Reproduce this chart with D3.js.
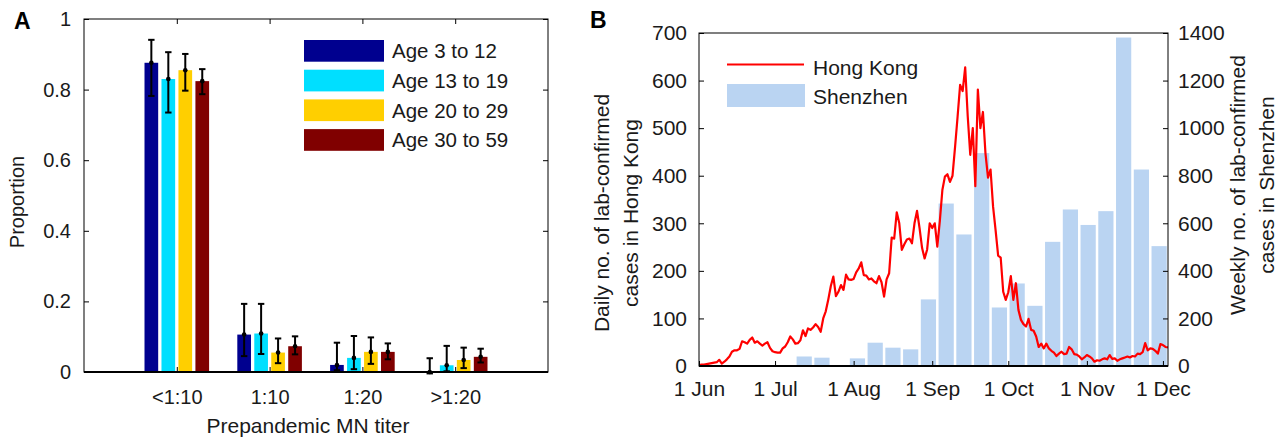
<!DOCTYPE html>
<html>
<head>
<meta charset="utf-8">
<script src="https://cdn.jsdelivr.net/npm/d3@7"></script>
<style>
  body { margin: 0; background: #fff; }
  svg { display: block; font-family: "Liberation Sans", Arial, sans-serif; }
</style>
</head>
<body>
<svg id="chart" width="1278" height="440"></svg>
<script>
// ---- panel A data: prepandemic MN titer by age group ----
const titers = ["<1:10", "1:10", "1:20", ">1:20"];
const ageGroups = ["Age 3 to 12", "Age 13 to 19", "Age 20 to 29", "Age 30 to 59"];
const ageColours = ["#00008f", "#00dfff", "#ffcf00", "#800000"];
// rows = age group, columns = titer
const propMean = [
  [0.876, 0.106, 0.020, 0.000],
  [0.830, 0.109, 0.040, 0.019],
  [0.855, 0.055, 0.057, 0.034],
  [0.824, 0.073, 0.057, 0.043]
];
const propLow = [
  [0.782, 0.045, 0.005, -0.004],
  [0.735, 0.051, 0.008, 0.002],
  [0.797, 0.025, 0.023, 0.011],
  [0.787, 0.050, 0.036, 0.027]
];
const propHigh = [
  [0.941, 0.193, 0.083, 0.039],
  [0.906, 0.193, 0.102, 0.074],
  [0.901, 0.095, 0.098, 0.069],
  [0.858, 0.101, 0.081, 0.066]
];
const propTicks = [0, 0.2, 0.4, 0.6, 0.8, 1];

// ---- panel B data: Hong Kong daily cases, Shenzhen weekly cases ----
const hkStart = "2009-06-01";
const hkDaily = [
  2, 3, 3, 4, 5, 6, 7, 8, 13, 5,
  9, 14, 20, 30, 33, 33, 36, 52, 50, 47,
  55, 60, 49, 52, 47, 43, 47, 50, 38, 31,
  29, 28, 28, 37, 41, 50, 62, 56, 47, 48,
  54, 75, 63, 79, 76, 81, 88, 82, 72, 100,
  115, 140, 168, 188, 147, 156, 170, 160, 192, 182,
  181, 183, 197, 205, 218, 191, 190, 182, 184, 178,
  174, 189, 176, 146, 182, 195, 270, 268, 323, 300,
  244, 256, 266, 268, 258, 300, 326, 290, 248, 226,
  245, 300, 290, 300, 251, 305, 370, 398, 403, 387,
  400, 460, 524, 591, 578, 628, 525, 444, 500, 378,
  581, 500, 534, 447, 396, 413, 335, 285, 232, 228,
  156, 139, 155, 189, 139, 174, 118, 97, 88, 83,
  99, 76, 74, 62, 40, 47, 37, 47, 37, 32,
  28, 21, 26, 30, 25, 26, 40, 35, 25, 24,
  20, 14, 18, 23, 20, 16, 9, 12, 11, 14,
  16, 14, 23, 15, 16, 11, 14, 16, 18, 20,
  18, 21, 20, 26, 25, 29, 48, 33, 37, 36,
  32, 26, 46, 44, 40, 39
];
const szWeekStart = "2009-07-09";
const szWeekly = [40, 35, 0, 32, 98, 77, 70, 280, 683, 553, 895,
                  246, 347, 253, 522, 658, 593, 651, 1381, 826, 504];
const monthTicks = ["2009-06-01", "2009-07-01", "2009-08-01", "2009-09-01",
                    "2009-10-01", "2009-11-01", "2009-12-01"];
const hkTicks = [0, 100, 200, 300, 400, 500, 600, 700];
const szTicks = [0, 200, 400, 600, 800, 1000, 1200, 1400];
const xEnd = "2009-12-03";

const svg = d3.select("#chart");
const parse = d3.utcParse("%Y-%m-%d");

// small helper to style axis text + ticks like matlab (inward ticks, no domain)
function styleAxis(g, size) {
  g.select(".domain").remove();
  g.selectAll(".tick line").attr("stroke", "#000").attr("stroke-width", 1);
  g.selectAll(".tick text").attr("fill", "#1a1a1a").style("font-size", size + "px")
    .style("font-family", "'Liberation Sans', Arial, sans-serif");
}

// =================== panel A ===================
const A = { left: 84, right: 548, top: 19, bottom: 372 };
const xA = d3.scaleLinear().domain([0, 5]).range([A.left, A.right]);
const yA = d3.scaleLinear().domain([0, 1]).range([A.bottom, A.top]);
const sub = d3.scaleBand().domain(ageGroups).range([-0.348, 0.348]).paddingInner(0.194);
const unit = xA(1) - xA(0);
const colourA = d3.scaleOrdinal().domain(ageGroups).range(ageColours);

const rowsA = ageGroups.flatMap((age, s) => titers.map((t, i) => ({
  age, i, v: propMean[s][i], lo: propLow[s][i], hi: propHigh[s][i]
})));

const gA = svg.append("g");

gA.selectAll("rect.bar")
  .data(rowsA)
  .enter().append("rect")
    .attr("class", "bar")
    .attr("x", d => xA(d.i + 1 + sub(d.age)))
    .attr("width", sub.bandwidth() * unit)
    .attr("y", d => yA(d.v))
    .attr("height", d => yA(0) - yA(d.v))
    .attr("fill", d => colourA(d.age));

// error bars
const cxA = d => xA(d.i + 1 + sub(d.age) + sub.bandwidth() / 2);
const err = gA.selectAll("g.err").data(rowsA).enter().append("g").attr("class", "err");
err.append("line")
  .attr("x1", cxA).attr("x2", cxA)
  .attr("y1", d => yA(d.lo)).attr("y2", d => yA(d.hi))
  .attr("stroke", "#000").attr("stroke-width", 2);
err.append("line")
  .attr("x1", d => cxA(d) - 3.2).attr("x2", d => cxA(d) + 3.2)
  .attr("y1", d => yA(d.lo)).attr("y2", d => yA(d.lo))
  .attr("stroke", "#000").attr("stroke-width", 2);
err.append("line")
  .attr("x1", d => cxA(d) - 3.2).attr("x2", d => cxA(d) + 3.2)
  .attr("y1", d => yA(d.hi)).attr("y2", d => yA(d.hi))
  .attr("stroke", "#000").attr("stroke-width", 2);
err.append("circle")
  .attr("cx", cxA).attr("cy", d => yA(d.v)).attr("r", 2.3).attr("fill", "#000");

// axes
gA.append("g").attr("transform", `translate(${A.left},0)`)
  .call(d3.axisLeft(yA).tickValues(propTicks).tickFormat(d3.format("~g")).tickSize(-5).tickPadding(13))
  .call(g => styleAxis(g, 20));
gA.append("g").attr("transform", `translate(${A.right},0)`)
  .call(d3.axisRight(yA).tickValues(propTicks).tickFormat("").tickSize(-5))
  .call(g => styleAxis(g, 20));
gA.append("g").attr("transform", `translate(0,${A.bottom})`)
  .call(d3.axisBottom(xA).tickValues([1, 2, 3, 4]).tickFormat(i => titers[i - 1]).tickSize(-5).tickPadding(18))
  .call(g => styleAxis(g, 20));
gA.append("g").attr("transform", `translate(0,${A.top})`)
  .call(d3.axisTop(xA).tickValues([1, 2, 3, 4]).tickFormat("").tickSize(-5))
  .call(g => styleAxis(g, 20));

gA.append("rect")
  .attr("x", A.left).attr("y", A.top)
  .attr("width", A.right - A.left).attr("height", A.bottom - A.top)
  .attr("fill", "none").attr("stroke", "#000").attr("stroke-width", 1);
gA.append("line")
  .attr("x1", A.left).attr("x2", A.right).attr("y1", yA(0)).attr("y2", yA(0))
  .attr("stroke", "#000").attr("stroke-width", 2);

// legend A
const legA = gA.selectAll("g.leg").data(ageGroups).enter().append("g")
  .attr("transform", (d, i) => `translate(304,${40 + i * 29.7})`);
legA.append("rect").attr("width", 80).attr("height", 21.7).attr("fill", d => colourA(d));
legA.append("text").attr("x", 88).attr("y", 11).attr("dy", "0.35em")
  .style("font-size", "20.5px").attr("fill", "#1a1a1a").text(d => d);

// labels
gA.append("text")
  .attr("transform", "translate(17,202) rotate(-90)")
  .attr("text-anchor", "middle").attr("dy", "0.35em")
  .style("font-size", "20px").attr("fill", "#1a1a1a").text("Proportion");
gA.append("text")
  .attr("x", (A.left + A.right) / 2 - 8).attr("y", 433)
  .attr("text-anchor", "middle")
  .style("font-size", "21px").attr("fill", "#1a1a1a").text("Prepandemic MN titer");
gA.append("text").attr("x", 14).attr("y", 29)
  .style("font-size", "23px").style("font-weight", "bold").text("A");

// =================== panel B ===================
const B = { left: 699, right: 1168, top: 33, bottom: 366 };
const xB = d3.scaleUtc().domain([parse(hkStart), parse(xEnd)]).range([B.left, B.right]);
const yHK = d3.scaleLinear().domain([0, 700]).range([B.bottom, B.top]);
const ySZ = d3.scaleLinear().domain([0, 1400]).range([B.bottom, B.top]);
const szColour = "#bad4f2";
const hkColour = "#ff0000";

const gB = svg.append("g");
gB.append("clipPath").attr("id", "clipB").append("rect")
  .attr("x", B.left).attr("y", B.top - 5).attr("width", B.right - B.left).attr("height", B.bottom - B.top + 5);

// weekly Shenzhen bars (6-day wide bars, one per week)
const weekStart0 = parse(szWeekStart);
gB.append("g").attr("clip-path", "url(#clipB)")
  .selectAll("rect")
  .data(szWeekly.map((v, k) => ({ start: d3.utcDay.offset(weekStart0, 7 * k), v })))
  .enter().append("rect")
    .attr("x", d => xB(d3.utcHour.offset(d.start, 12)))
    .attr("width", d => xB(d3.utcHour.offset(d.start, 156)) - xB(d3.utcHour.offset(d.start, 12)))
    .attr("y", d => ySZ(d.v))
    .attr("height", d => ySZ(0) - ySZ(d.v))
    .attr("fill", szColour);

// daily Hong Kong line
const hk0 = parse(hkStart);
gB.append("path")
  .datum(hkDaily)
  .attr("clip-path", "url(#clipB)")
  .attr("fill", "none")
  .attr("stroke", hkColour)
  .attr("stroke-width", 2.2)
  .attr("stroke-linejoin", "round")
  .attr("d", d3.line()
    .x((d, i) => xB(d3.utcDay.offset(hk0, i)))
    .y(d => yHK(d)));

// axes
gB.append("g").attr("transform", `translate(${B.left},0)`)
  .call(d3.axisLeft(yHK).tickValues(hkTicks).tickFormat(d3.format("d")).tickSize(-5).tickPadding(12))
  .call(g => styleAxis(g, 21));
gB.append("g").attr("transform", `translate(${B.right},0)`)
  .call(d3.axisRight(ySZ).tickValues(szTicks).tickFormat(d3.format("d")).tickSize(-5).tickPadding(10))
  .call(g => styleAxis(g, 21));
gB.append("g").attr("transform", `translate(0,${B.bottom})`)
  .call(d3.axisBottom(xB).tickValues(monthTicks.map(parse)).tickFormat(d3.utcFormat("%-d %b")).tickSize(-5).tickPadding(15))
  .call(g => styleAxis(g, 21));

gB.append("rect")
  .attr("x", B.left).attr("y", B.top)
  .attr("width", B.right - B.left).attr("height", B.bottom - B.top)
  .attr("fill", "none").attr("stroke", "#000").attr("stroke-width", 1);
gB.append("line")
  .attr("x1", B.left).attr("x2", B.right).attr("y1", B.bottom).attr("y2", B.bottom)
  .attr("stroke", "#000").attr("stroke-width", 2);

// legend B
gB.append("line").attr("x1", 727).attr("x2", 804).attr("y1", 64.5).attr("y2", 64.5)
  .attr("stroke", hkColour).attr("stroke-width", 2.2);
gB.append("text").attr("x", 813).attr("y", 67.5).attr("dy", "0.35em")
  .style("font-size", "21px").attr("fill", "#1a1a1a").text("Hong Kong");
gB.append("rect").attr("x", 727).attr("y", 84).attr("width", 78).attr("height", 23)
  .attr("fill", szColour);
gB.append("text").attr("x", 813).attr("y", 96.5).attr("dy", "0.35em")
  .style("font-size", "21px").attr("fill", "#1a1a1a").text("Shenzhen");

// axis titles (two lines each)
const leftTitle = ["Daily no. of lab-confirmed", "cases in Hong Kong"];
const rightTitle = ["Weekly no. of lab-confirmed", "cases in Shenzhen"];
gB.selectAll("text.lt").data(leftTitle).enter().append("text")
  .attr("class", "lt")
  .attr("transform", (d, i) => `translate(${602 + i * 29},213) rotate(-90)`)
  .attr("text-anchor", "middle").attr("dy", "0.35em")
  .style("font-size", "21px").attr("fill", "#1a1a1a").text(d => d);
gB.selectAll("text.rt").data(rightTitle).enter().append("text")
  .attr("class", "rt")
  .attr("transform", (d, i) => `translate(${1238 + i * 29},185) rotate(-90)`)
  .attr("text-anchor", "middle").attr("dy", "0.35em")
  .style("font-size", "21px").attr("fill", "#1a1a1a").text(d => d);

gB.append("text").attr("x", 590).attr("y", 28)
  .style("font-size", "23px").style("font-weight", "bold").text("B");
</script>
</body>
</html>
